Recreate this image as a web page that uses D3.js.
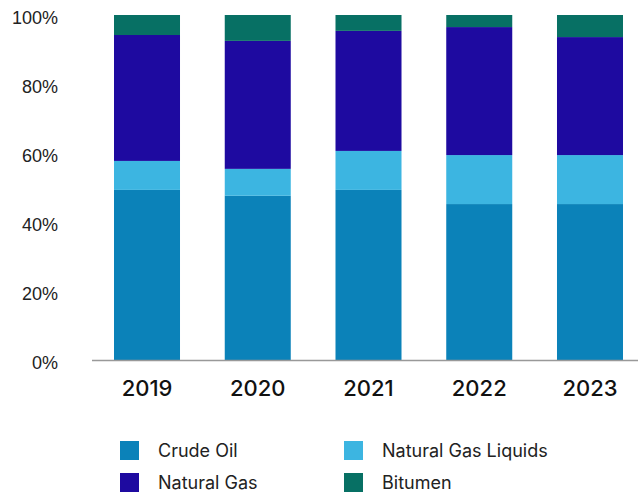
<!DOCTYPE html>
<html>
<head>
<meta charset="utf-8">
<script src="https://cdn.jsdelivr.net/npm/d3@7"></script>
<style>
  body { margin: 0; background: #fff; }
  svg { display: block; }
</style>
</head>
<body>
<script>
const years = ["2019", "2020", "2021", "2022", "2023"];
const seriesNames = ["Crude Oil", "Natural Gas Liquids", "Natural Gas", "Bitumen"];
const crudeOil = [49.3, 47.6, 49.3, 45.2, 45.2];
const naturalGasLiquids = [8.4, 7.8, 11.3, 14.2, 14.2];
const naturalGas = [36.5, 37.1, 34.8, 37.1, 34.2];
const bitumen = [5.8, 7.5, 4.6, 3.5, 6.4];
const yTicks = [0, 20, 40, 60, 80, 100];

const colors = ["#0b82b9", "#3cb5e1", "#1e0aa0", "#077064"];

const width = 639;
const height = 494;

// one row per year for d3.stack
const rows = years.map((y, i) => ({
    year: y,
    "Crude Oil": crudeOil[i],
    "Natural Gas Liquids": naturalGasLiquids[i],
    "Natural Gas": naturalGas[i],
    "Bitumen": bitumen[i]
}));

const stacked = d3.stack().keys(seriesNames)(rows);

const svg = d3.select("body")
              .append("svg")
              .attr("width", width)
              .attr("height", height);

const xScale = d3.scaleBand()
                 .domain(years)
                 .range([114, 623])
                 .paddingInner(0.404)
                 .paddingOuter(0);

const yScale = d3.scaleLinear()
                 .domain([0, 100])
                 .range([360, 15]);

svg.selectAll("g.layer")
   .data(stacked)
   .enter()
   .append("g")
   .attr("class", "layer")
   .attr("fill", (d, i) => colors[i])
   .selectAll("rect")
   .data(d => d)
   .enter()
   .append("rect")
   .attr("x", d => xScale(d.data.year))
   .attr("width", xScale.bandwidth())
   .attr("y", d => yScale(d[1]))
   .attr("height", d => yScale(d[0]) - yScale(d[1]));

// y axis, labels only
const yAxis = d3.axisLeft(yScale)
                .tickValues(yTicks)
                .tickFormat(d => d + "%")
                .tickSize(0)
                .tickPadding(0);

const yG = svg.append("g")
   .attr("transform", "translate(58,3)")
   .call(yAxis);
yG.select(".domain").remove();
yG.selectAll("text")
  .attr("font-family", "'Liberation Sans', Arial, sans-serif")
  .attr("font-size", 18)
  .attr("fill", "#222");

// x axis
const xAxis = d3.axisBottom(xScale).tickSize(0).tickPadding(20);
const xG = svg.append("g")
   .attr("transform", "translate(0,360)")
   .call(xAxis);
xG.select(".domain").remove();
xG.selectAll("text")
  .attr("font-family", "Inter, 'DejaVu Sans', sans-serif")
  .attr("font-weight", 500)
  .attr("font-size", 22)
  .attr("fill", "#111");

svg.append("line")
   .attr("x1", 92)
   .attr("x2", 638)
   .attr("y1", 360.5)
   .attr("y2", 360.5)
   .attr("stroke", "#999")
   .attr("stroke-width", 1.5);

// legend
const legendPos = [[120, 441], [344, 441], [120, 473], [344, 473]];
const legendOrder = [0, 1, 2, 3];
const legend = svg.selectAll("g.legend")
   .data(legendOrder)
   .enter()
   .append("g")
   .attr("class", "legend")
   .attr("transform", (d, i) => "translate(" + legendPos[i][0] + "," + legendPos[i][1] + ")");

legend.append("rect")
      .attr("width", 19)
      .attr("height", 19)
      .attr("fill", d => colors[d]);

legend.append("text")
      .attr("x", 38)
      .attr("y", 10)
      .attr("dy", "0.35em")
      .attr("font-family", "Inter, 'Noto Sans', sans-serif")
      .attr("font-size", 18)
      .attr("fill", "#222")
      .text(d => seriesNames[d]);
</script>
</body>
</html>
